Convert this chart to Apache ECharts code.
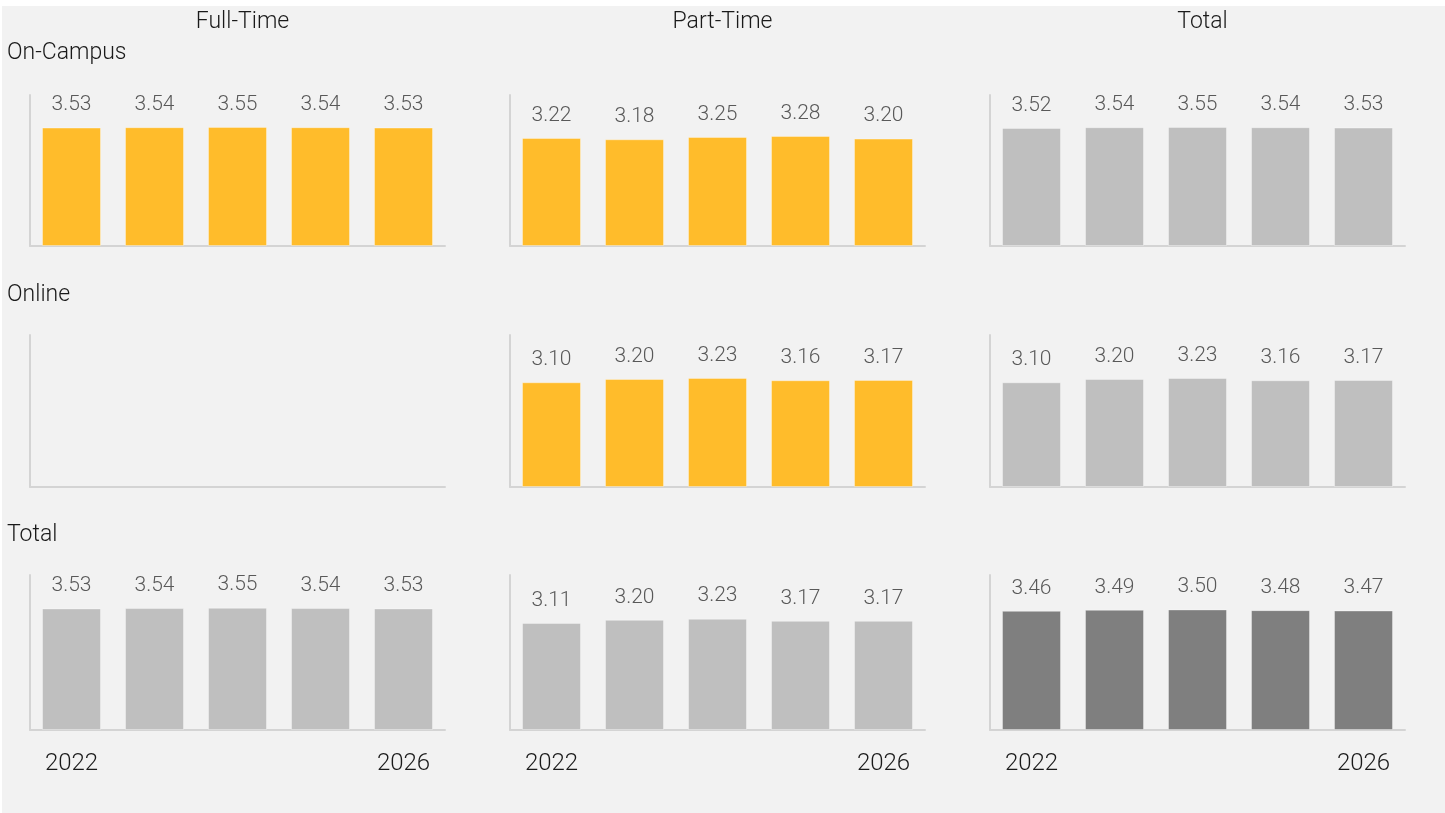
<!DOCTYPE html>
<html>
<head>
<meta charset="utf-8">
<script src="https://cdn.jsdelivr.net/npm/echarts@6/dist/echarts.min.js"></script>
<style>
  html, body { margin: 0; padding: 0; background: #ffffff; }
  #chart { position: absolute; left: 2px; top: 6px; width: 1443px; height: 807px; background: #f2f2f2; }
</style>
</head>
<body>
<div id="chart"></div>
<script>
  // data
  var years = ['2022', '2023', '2024', '2025', '2026']
  var colTitles = ['Full-Time', 'Part-Time', 'Total']
  var rowTitles = ['On-Campus', 'Online', 'Total']

  var onCampusFT = [3.53, 3.54, 3.55, 3.54, 3.53]
  var onCampusPT = [3.22, 3.18, 3.25, 3.28, 3.20]
  var onCampusTotal = [3.52, 3.54, 3.55, 3.54, 3.53]
  var onlineFT = []
  var onlinePT = [3.10, 3.20, 3.23, 3.16, 3.17]
  var onlineTotal = [3.10, 3.20, 3.23, 3.16, 3.17]
  var totalFT = [3.53, 3.54, 3.55, 3.54, 3.53]
  var totalPT = [3.11, 3.20, 3.23, 3.17, 3.17]
  var totalTotal = [3.46, 3.49, 3.50, 3.48, 3.47]

  var panels = [
    [onCampusFT, onCampusPT, onCampusTotal],
    [onlineFT, onlinePT, onlineTotal],
    [totalFT, totalPT, totalTotal]
  ]

  var YELLOW = '#ffbc2b'
  var LIGHT = '#bfbfbf'
  var DARK = '#7f7f7f'
  var panelColors = [
    [YELLOW, YELLOW, LIGHT],
    [YELLOW, YELLOW, LIGHT],
    [LIGHT, LIGHT, DARK]
  ]

  var FONT = 'Roboto, "Liberation Sans", sans-serif'
  var colLeft = [28, 508, 988]
  var rowTop = [89, 329, 569]
  var rowHeight = [151, 152, 155]
  var gridWidth = 415

  var grid = [], xAxis = [], yAxis = [], series = [], title = []

  colTitles.forEach(function (t, c) {
    title.push({
      text: t, left: colLeft[c] + gridWidth / 2 + 5, top: 5, padding: 0, textAlign: 'center',
      textStyle: { fontFamily: FONT, fontSize: 23, fontWeight: 300, color: '#1a1a1a' }
    })
  })
  rowTitles.forEach(function (t, r) {
    title.push({
      text: t, left: 5, top: [36, 278, 518][r], padding: 0,
      textStyle: { fontFamily: FONT, fontSize: 23, fontWeight: 300, color: '#1a1a1a' }
    })
  })

  for (var r = 0; r < 3; r++) {
    for (var c = 0; c < 3; c++) {
      var idx = r * 3 + c
      grid.push({ left: colLeft[c], top: rowTop[r], width: gridWidth, height: rowHeight[r] })
      xAxis.push({
        type: 'category', gridIndex: idx, data: years,
        axisLine: { lineStyle: { color: '#d4d4d4', width: 2 } },
        axisTick: { show: false },
        axisLabel: {
          show: r === 2,
          interval: function (i) { return i === 0 || i === years.length - 1 },
          margin: 22, fontFamily: FONT, fontSize: 24, fontWeight: 300, color: '#1a1a1a'
        }
      })
      yAxis.push({
        type: 'value', gridIndex: idx, min: 0, max: 4.5,
        axisLine: { show: true, lineStyle: { color: '#d4d4d4', width: 2 } },
        axisTick: { show: false },
        axisLabel: { show: false },
        splitLine: { show: false }
      })
      series.push({
        type: 'bar', xAxisIndex: idx, yAxisIndex: idx,
        data: panels[r][c],
        barWidth: 59,
        itemStyle: { color: panelColors[r][c], borderColor: 'rgba(255,255,255,0.35)', borderWidth: 1 },
        label: {
          show: true, position: 'top', distance: 12,
          fontFamily: FONT, fontSize: 21, fontWeight: 300, color: '#595959',
          formatter: function (p) { return p.value.toFixed(2) }
        },
        silent: true
      })
    }
  }

  var chart = echarts.init(document.getElementById('chart'))
  chart.setOption({
    animation: false,
    title: title,
    grid: grid,
    xAxis: xAxis,
    yAxis: yAxis,
    series: series
  })
</script>
</body>
</html>
